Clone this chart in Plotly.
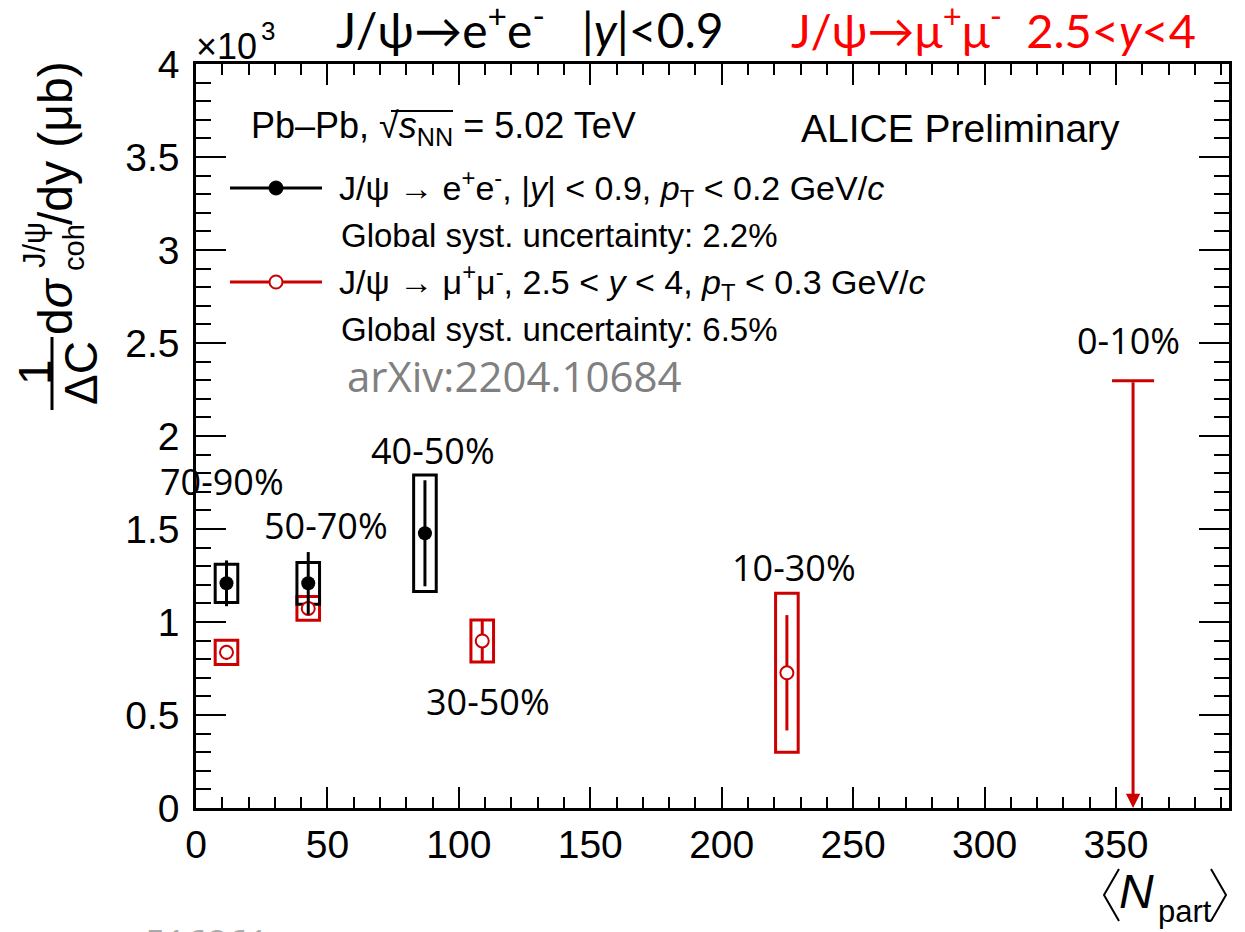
import plotly.graph_objects as go

# ---- data: coherent J/psi photoproduction vs <Npart>, in units of 10^3 ub ----
# J/psi -> e+e-, |y| < 0.9
cent_ee = ["70-90%", "50-70%", "40-50%"]
npart_ee = [11.6, 42.7, 87.1]
sigma_ee = [1.208, 1.208, 1.477]
stat_ee = [0.123, 0.168, 0.285]
syst_ee = [0.103, 0.112, 0.313]

# J/psi -> mu+mu-, 2.5 < y < 4
cent_mm = ["70-90%", "50-70%", "30-50%", "10-30%"]
npart_mm = [11.6, 42.7, 108.9, 224.8]
sigma_mm = [0.837, 1.073, 0.898, 0.727]
stat_mm = [0.040, 0.040, 0.110, 0.310]
syst_mm = [0.065, 0.064, 0.113, 0.427]

# upper limit, 0-10%
cent_ul = ["0-10%"]
npart_ul = [356.5]
limit_ul = [2.297]

x_ticks = [0, 50, 100, 150, 200, 250, 300, 350]
x_ticklabels = ["0", "50", "100", "150", "200", "250", "300", "350"]
y_ticks = [0, 0.5, 1, 1.5, 2, 2.5, 3, 3.5, 4]
y_ticklabels = ["0", "0.5", "1", "1.5", "2", "2.5", "3", "3.5", "4"]

# ---- styling ----
BLACK = "#000000"
RED = "#cc0000"
TITLE_RED = "#ff0000"
HELV = "Liberation Sans, Arial, sans-serif"
SANS = "Open Sans, sans-serif"
BOX_HALF = 4.3      # half width of systematic boxes (Npart units)
CAP_HALF = 8.0      # half width of the upper-limit bar

# frame of the plotting area in page pixels
L, R, T, B = 196, 1229, 64, 808
W, H = R - L, B - T


def px(x):
    return (x - L) / W


def py(y):
    return (B - y) / H


fig = go.Figure()

# muon points first, electrons drawn on top
fig.add_trace(go.Scatter(
    x=npart_mm, y=sigma_mm, mode="markers", showlegend=False,
    marker=dict(symbol="circle", size=13, color="white",
                line=dict(color=RED, width=2)),
    error_y=dict(type="data", array=stat_mm, color=RED, thickness=3, width=0),
))
fig.add_trace(go.Scatter(
    x=npart_ee, y=sigma_ee, mode="markers", showlegend=False,
    marker=dict(symbol="circle", size=14, color=BLACK),
    error_y=dict(type="data", array=stat_ee, color=BLACK, thickness=3, width=0),
))

shapes = []
# systematic uncertainty boxes
for xs, ys, ss, col in ((npart_mm, sigma_mm, syst_mm, RED),
                        (npart_ee, sigma_ee, syst_ee, BLACK)):
    for xv, yv, sv in zip(xs, ys, ss):
        shapes.append(dict(type="rect", xref="x", yref="y",
                           x0=xv - BOX_HALF, x1=xv + BOX_HALF,
                           y0=yv - sv, y1=yv + sv,
                           line=dict(color=col, width=3),
                           fillcolor="rgba(0,0,0,0)", layer="below"))

# upper-limit bar
for xv, yv in zip(npart_ul, limit_ul):
    shapes.append(dict(type="line", xref="x", yref="y",
                       x0=xv - CAP_HALF, x1=xv + CAP_HALF, y0=yv, y1=yv,
                       line=dict(color=RED, width=3)))

annotations = []
for xv, yv in zip(npart_ul, limit_ul):
    annotations.append(dict(x=xv, y=0, xref="x", yref="y",
                            ax=xv, ay=yv, axref="x", ayref="y",
                            text="", showarrow=True, arrowhead=2,
                            arrowsize=0.95, arrowwidth=3, arrowcolor=RED,
                            standoff=0, startstandoff=0))

# ---- legend (drawn by hand) ----
shapes += [
    dict(type="line", xref="paper", yref="paper",
         x0=px(230), x1=px(322), y0=py(188), y1=py(188),
         line=dict(color=BLACK, width=3)),
    dict(type="circle", xref="paper", yref="paper",
         x0=px(269), x1=px(283), y0=py(195), y1=py(181),
         fillcolor=BLACK, line=dict(color=BLACK, width=1)),
    dict(type="line", xref="paper", yref="paper",
         x0=px(230), x1=px(322), y0=py(282), y1=py(282),
         line=dict(color=RED, width=3)),
    dict(type="circle", xref="paper", yref="paper",
         x0=px(269.5), x1=px(282.5), y0=py(288.5), y1=py(275.5),
         fillcolor="white", line=dict(color=RED, width=2)),
]


def text(s, x, y, size, family=HELV, color=BLACK, xanchor="left",
         yanchor="middle", angle=0):
    annotations.append(dict(text=s, x=px(x), y=py(y), xref="paper",
                            yref="paper", xanchor=xanchor, yanchor=yanchor,
                            showarrow=False, textangle=angle,
                            font=dict(family=family, size=size, color=color)))


text("J/ψ → e<sup>+</sup>e<sup>-</sup>, |<i>y</i>| &lt; 0.9, "
     "<i>p</i><sub>T</sub> &lt; 0.2 GeV/<i>c</i>", 337, 188, 34)
text("Global syst. uncertainty: 2.2%", 339, 235, 33)
text("J/ψ → μ<sup>+</sup>μ<sup>-</sup>, 2.5 &lt; <i>y</i> &lt; 4, "
     "<i>p</i><sub>T</sub> &lt; 0.3 GeV/<i>c</i>", 337, 282, 34)
text("Global syst. uncertainty: 6.5%", 339, 329, 33)

# header
text("Pb–Pb, √<i>s</i><sub>NN</sub> = 5.02 TeV", 249, 128, 36)
shapes.append(dict(type="line", xref="paper", yref="paper",
                   x0=px(391), x1=px(453), y0=py(111), y1=py(111),
                   line=dict(color=BLACK, width=2)))
text("ALICE Preliminary", 799, 128, 39)

# top title
text("J/ψ→e<sup>+</sup>e<sup>-</sup>&nbsp;&nbsp;&nbsp;|<i>y</i>|&lt;0.9",
     334, 27, 48, family="Lato, sans-serif")
text("J/ψ→μ<sup>+</sup>μ<sup>-</sup>&nbsp;&nbsp;2.5&lt;<i>y</i>&lt;4",
     789, 27, 47, family="Lato, sans-serif", color=TITLE_RED)

text("arXiv:2204.10684", 514, 376, 42, family=SANS, color="#808080",
     xanchor="center")

# centrality labels
label_pos = {"70-90%": (222, 481), "50-70%": (326, 525), "40-50%": (433, 450),
             "30-50%": (488, 701), "10-30%": (794, 567), "0-10%": (1128, 340)}
for lab in cent_ee + cent_mm + cent_ul:
    if lab in label_pos:
        xx, yy = label_pos.pop(lab)
        text(lab, xx, yy, 36, family=SANS, xanchor="center")

# exponent of the y axis
text("×10", 194, 47, 36)
text("3", 259, 31, 26)

# y-axis title (rotated)
text("d<i>σ</i>", 55, 306, 48, angle=-90, xanchor="center")
text("J/ψ", 34, 245, 31, angle=-90, xanchor="center")
text("coh", 74, 248, 29, angle=-90, xanchor="center")
text("/dy (μb)", 55, 143, 48, angle=-90, xanchor="center")
text("1", 35, 372, 46, angle=-90, xanchor="center")
text("ΔC", 81, 373, 46, angle=-90, xanchor="center")
shapes.append(dict(type="line", xref="paper", yref="paper",
                   x0=px(52), x1=px(52), y0=py(337), y1=py(410),
                   line=dict(color=BLACK, width=3)))

# x-axis title <N_part>
text("<i>N</i>", 1136, 891, 48, xanchor="center")
text("part", 1185, 911, 31, xanchor="center")
shapes.append(dict(type="path", xref="paper", yref="paper",
                   path=f"M{px(1119)},{py(869)} L{px(1104)},{py(895)} "
                        f"L{px(1119)},{py(921)}",
                   line=dict(color=BLACK, width=2)))
shapes.append(dict(type="path", xref="paper", yref="paper",
                   path=f"M{px(1211)},{py(869)} L{px(1226)},{py(895)} "
                        f"L{px(1211)},{py(921)}",
                   line=dict(color=BLACK, width=2)))

# faint footer id
text("516861", 207, 916, 36, family=SANS, color="#aaaaaa",
     xanchor="center", yanchor="top")

axis_common = dict(showline=True, linecolor=BLACK, linewidth=2.5,
                   mirror="allticks", ticks="inside", tickcolor=BLACK,
                   tickwidth=2, showgrid=False, zeroline=False,
                   tickfont=dict(family=HELV, size=39, color=BLACK))

fig.update_layout(
    width=1245, height=932,
    margin=dict(l=L, r=1245 - R, t=T, b=932 - B, pad=0),
    paper_bgcolor="white", plot_bgcolor="white",
    xaxis=dict(range=[0, 393], tickvals=x_ticks, ticktext=x_ticklabels,
               ticklen=21, ticklabelstandoff=0,
               minor=dict(dtick=10, ticklen=11, tickwidth=2, ticks="inside",
                          tickcolor=BLACK),
               **axis_common),
    yaxis=dict(range=[0, 4], tickvals=y_ticks, ticktext=y_ticklabels,
               ticklen=30, ticklabelstandoff=6,
               minor=dict(dtick=0.1, ticklen=15, tickwidth=2, ticks="inside",
                          tickcolor=BLACK),
               **axis_common),
    shapes=shapes,
    annotations=annotations,
    showlegend=False,
)

fig.write_html("out.html")
